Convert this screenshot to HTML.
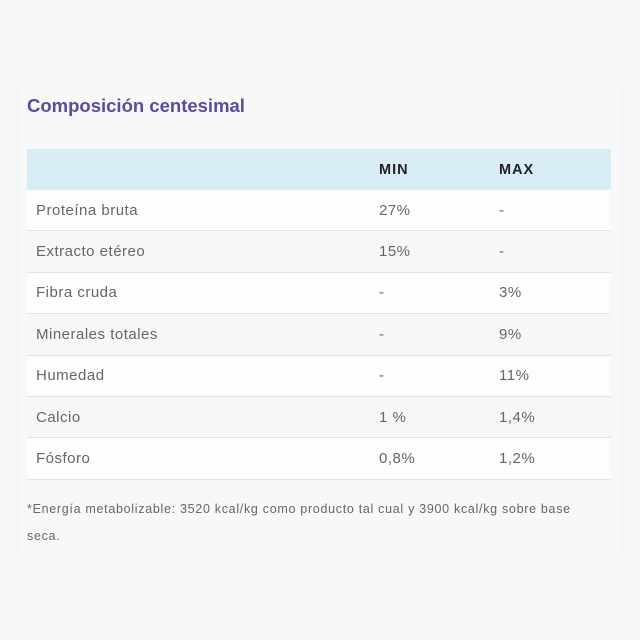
<!DOCTYPE html>
<html><head><meta charset="utf-8"><style>
html,body{margin:0;padding:0;width:640px;height:640px;background:#f5f6f7;font-family:"Liberation Sans",sans-serif;overflow:hidden}
.card{position:absolute;left:20px;top:82px;width:600px;height:470px;background:#f7f8f8}
h1{position:absolute;left:27px;top:95px;margin:0;font-size:18.5px;font-weight:bold;color:#5b4c9c}
table{position:absolute;left:27px;top:149px;width:584px;border-collapse:collapse}
th,td{padding:0;text-align:left;font-size:15px;letter-spacing:0.5px;color:#666}
th{height:41px;background:#d8ecf6;font-size:14.5px;color:#222;font-weight:bold;letter-spacing:1px}
td{height:40.4px;border-bottom:1px solid #e2e4e6}
tr:nth-child(odd) td{background:#fdfdfc}
tr:nth-child(even) td{background:#f6f7f7}
.c1{padding-left:9px;width:343px}
.c2{width:120px}
.note{position:absolute;left:27px;top:496px;width:570px;font-size:12.5px;line-height:27px;color:#666;letter-spacing:0.7px}
</style></head><body>
<div class="card"></div>
<h1>Composición centesimal</h1>
<table>
<thead><tr><th class="c1"></th><th class="c2">MIN</th><th>MAX</th></tr></thead>
<tbody>
<tr><td class="c1">Proteína bruta</td><td>27%</td><td>-</td></tr>
<tr><td class="c1">Extracto etéreo</td><td>15%</td><td>-</td></tr>
<tr><td class="c1">Fibra cruda</td><td>-</td><td>3%</td></tr>
<tr><td class="c1">Minerales totales</td><td>-</td><td>9%</td></tr>
<tr><td class="c1">Humedad</td><td>-</td><td>11%</td></tr>
<tr><td class="c1">Calcio</td><td>1 %</td><td>1,4%</td></tr>
<tr><td class="c1">Fósforo</td><td>0,8%</td><td>1,2%</td></tr>
</tbody></table>
<div class="note">*Energía metabolizable: 3520 kcal/kg como producto tal cual y 3900 kcal/kg sobre base seca.</div>
</body></html>
